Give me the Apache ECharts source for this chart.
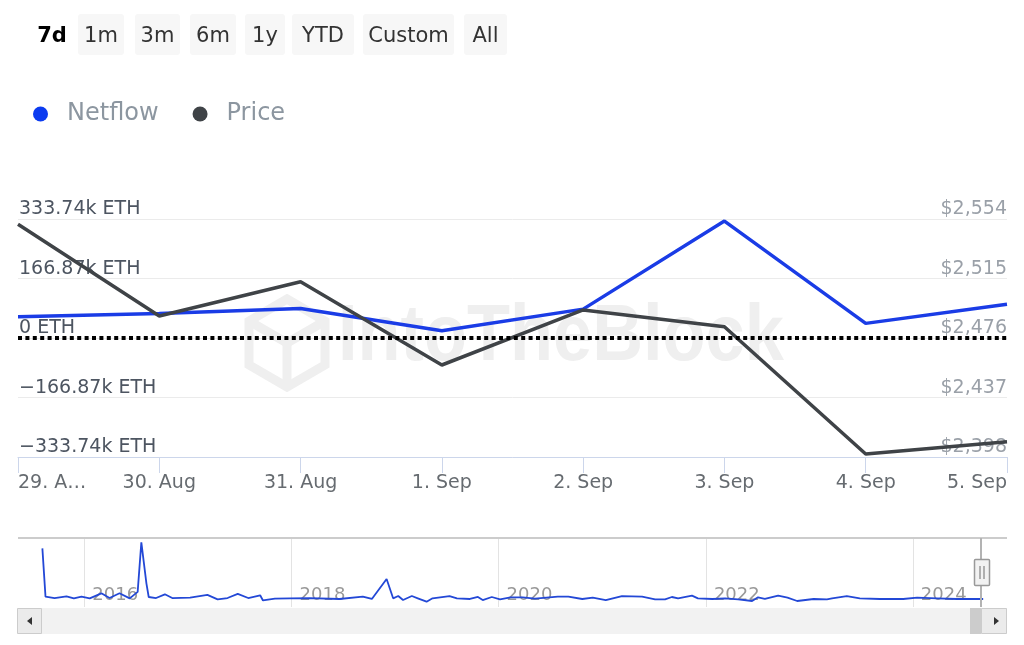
<!DOCTYPE html>
<html>
<head>
<meta charset="utf-8">
<script src="https://cdn.jsdelivr.net/npm/echarts@6/dist/echarts.min.js"></script>
<style>
html,body{margin:0;padding:0;background:#fff;}
#c{width:1024px;height:645px;}
</style>
</head>
<body>
<div id="c"></div>
<script>
// ---- data ----
var categories = ['29. Aug','30. Aug','31. Aug','1. Sep','2. Sep','3. Sep','4. Sep','5. Sep'];
var netflowK = [59.7, 69, 83, 20.5, 81, 328, 41, 94.5];          // k ETH
var price = [2550.5, 2490.4, 2512.9, 2458.3, 2494.4, 2483.4, 2400, 2408];
var leftTickLabels = ['\u2212333.74k ETH','\u2212166.87k ETH','0 ETH','166.87k ETH','333.74k ETH'];
var rightTickValues = [2398, 2437, 2476, 2515, 2554];
var rangeButtons = ['7d','1m','3m','6m','1y','YTD','Custom','All'];
var navYears = ['2016','2018','2020','2022','2024'];
var historyDates = ['2015-08-06','2015-08-17','2015-09-18','2015-10-30','2015-11-25','2015-12-22','2016-01-20','2016-03-01','2016-03-30','2016-05-04','2016-06-09','2016-07-07','2016-07-20','2016-08-07','2016-08-15','2016-09-10','2016-10-11','2016-11-06','2017-01-08','2017-03-10','2017-04-15','2017-05-20','2017-06-25','2017-08-01','2017-09-12','2017-09-22','2017-11-03','2017-12-26','2018-03-06','2018-06-19','2018-09-09','2018-10-11','2018-12-02','2018-12-25','2019-01-12','2019-01-29','2019-03-01','2019-03-22','2019-04-22','2019-05-13','2019-07-12','2019-08-07','2019-09-22','2019-10-20','2019-11-06','2019-12-08','2020-01-06','2020-02-12','2020-03-26','2020-05-08','2020-07-28','2020-09-03','2020-10-22','2020-11-28','2021-01-13','2021-03-11','2021-05-21','2021-07-06','2021-08-10','2021-09-03','2021-09-25','2021-11-13','2021-12-04','2022-01-24','2022-03-10','2022-04-25','2022-06-13','2022-07-04','2022-07-28','2022-09-13','2022-10-16','2022-11-19','2023-01-16','2023-03-04','2023-03-22','2023-05-13','2023-06-28','2023-09-07','2023-11-28','2024-01-16','2024-03-26','2024-06-04','2024-08-22','2024-09-05'];
var historyValues = [85,15,13,15.5,12.5,15,12.5,19.8,13,20,12.5,22,93.7,34,14.5,13,18.4,13,13.5,17.5,11,13,19,13,17,9.5,12,12.5,13,11.6,15,11.6,40.6,12.6,15.9,10.1,15.9,12.6,7.7,12.6,15.9,12.6,11.6,14.5,10.1,14.5,11.1,14,14,12,15,15,11.6,13.5,10.1,15.9,15,11.1,11.1,14.5,12.6,16.4,12.6,11.6,12.6,11.1,8.7,14,11.6,16.4,13.5,8.7,11.6,11.1,12.6,15.9,12.6,11.6,11.6,13.5,12.6,11.6,11.6,11.6];

var FONT = 'DejaVu Sans';
function ts(d){ return Date.parse(d + 'T00:00:00Z'); }
var navData = historyDates.map(function(d,i){ return [ts(d), historyValues[i]]; });
var yearTs = navYears.map(function(y){ return ts(y + '-01-01'); });

// ---- graphics (buttons, watermark, scrollbar) ----
var btnRects = [null,[78,46],[135,45],[190,46],[245,40],[292,62],[363,91],[464,43]];
var graphics = [];
rangeButtons.forEach(function(t,i){
  var r = btnRects[i];
  if (r) {
    graphics.push({type:'rect', shape:{x:r[0], y:14, width:r[1], height:41, r:3}, style:{fill:'#f7f7f7'}, z:1});
    graphics.push({type:'text', x:r[0]+r[1]/2, y:37, style:{text:t, font:'21px "'+FONT+'"', fill:'#333', align:'center', verticalAlign:'middle'}, z:2});
  } else {
    graphics.push({type:'text', x:52, y:37, style:{text:t, font:'bold 21px "'+FONT+'"', fill:'#000', align:'center', verticalAlign:'middle'}, z:2});
  }
});
// watermark
graphics.push({type:'polygon', shape:{points:[[287,299],[325,321],[325,365],[287,387],[249,365],[249,321]]}, style:{fill:'none', stroke:'#efefef', lineWidth:9}, z:0});
graphics.push({type:'polyline', shape:{points:[[249,321],[287,343],[325,321]]}, style:{fill:'none', stroke:'#efefef', lineWidth:9}, z:0});
graphics.push({type:'polyline', shape:{points:[[287,343],[287,387]]}, style:{fill:'none', stroke:'#efefef', lineWidth:9}, z:0});
graphics.push({type:'text', x:338, y:338, scaleX:0.88, style:{text:'IntoTheBlock', font:'bold 80px "Liberation Sans"', fill:'#efefef', verticalAlign:'middle'}, z:0});
// navigator outline
graphics.push({type:'line', shape:{x1:18,y1:538,x2:1007,y2:538}, style:{stroke:'#cccccc', lineWidth:2}, z:5});
graphics.push({type:'line', shape:{x1:981,y1:538,x2:981,y2:607}, style:{stroke:'#b3b3b3', lineWidth:2}, z:5});
graphics.push({type:'rect', shape:{x:974.5,y:559.5,width:15,height:26, r:1}, style:{fill:'#f2f2f2', stroke:'#999', lineWidth:1.5}, z:6});
graphics.push({type:'line', shape:{x1:980,y1:566,x2:980,y2:579}, style:{stroke:'#999', lineWidth:1.5}, z:7});
graphics.push({type:'line', shape:{x1:984,y1:566,x2:984,y2:579}, style:{stroke:'#999', lineWidth:1.5}, z:7});
// scrollbar
graphics.push({type:'rect', shape:{x:18,y:608,width:989,height:26}, style:{fill:'#f2f2f2'}, z:5});
graphics.push({type:'rect', shape:{x:17.5,y:608.5,width:24,height:25}, style:{fill:'#ebebeb', stroke:'#cccccc', lineWidth:1}, z:6});
graphics.push({type:'polygon', shape:{points:[[27,621],[32,617],[32,625]]}, style:{fill:'#333'}, z:7});
graphics.push({type:'rect', shape:{x:970,y:608,width:11,height:26}, style:{fill:'#cccccc'}, z:6});
graphics.push({type:'rect', shape:{x:981.5,y:608.5,width:25,height:25}, style:{fill:'#ebebeb', stroke:'#cccccc', lineWidth:1}, z:6});
graphics.push({type:'polygon', shape:{points:[[999,621],[994,617],[994,625]]}, style:{fill:'#333'}, z:7});

var chart = echarts.init(document.getElementById('c'), null, {renderer:'canvas'});
chart.setOption({
  animation:false,
  backgroundColor:'#fff',
  textStyle:{fontFamily:FONT},
  graphic:graphics,
  legend:{
    left:28, top:97, icon:'circle', itemWidth:15, itemHeight:15, itemGap:34,
    textStyle:{fontSize:24, color:'#8c96a0', fontFamily:FONT, padding:[0,0,0,14]},
    data:['Netflow','Price']
  },
  grid:[
    {left:18, right:17, top:219, bottom:188, containLabel:false},
    {left:18, right:17, top:538, bottom:38, containLabel:false}
  ],
  xAxis:[
    {type:'category', gridIndex:0, data:categories, boundaryGap:false,
     axisLine:{onZero:false, lineStyle:{color:'#ccd6eb', width:1}},
     axisTick:{length:16, lineStyle:{color:'#ccd6eb', width:1}},
     axisLabel:{margin:17, fontSize:19, color:'#666b70', fontFamily:FONT, alignMinLabel:'left', alignMaxLabel:'right',
       formatter:function(v,i){ return i===0 ? v.slice(0,5)+'\u2026' : v; }},
     splitLine:{show:false}},
    {type:'value', gridIndex:1, min:ts('2015-05-12'), max:ts('2024-11-28'),
     axisLine:{show:false}, axisTick:{show:false}, splitLine:{show:false},
     axisLabel:{inside:true, margin:3, fontSize:18, color:'#999', fontFamily:FONT, align:'left', padding:[0,0,0,8],
       customValues:yearTs,
       formatter:function(v){ return String(new Date(v).getUTCFullYear()); }}}
  ],
  yAxis:[
    {type:'value', gridIndex:0, min:-333.74, max:333.74, interval:166.87,
     axisLine:{show:false}, axisTick:{show:false},
     splitLine:{lineStyle:{color:'#ebebeb', width:1}},
     axisLabel:{inside:true, margin:1, fontSize:19, color:'#4d5561', fontFamily:FONT, verticalAlign:'bottom',
       formatter:function(v,i){ return leftTickLabels[i]; }}},
    {type:'value', gridIndex:0, position:'right', min:2398, max:2554,
     axisLine:{show:false}, axisTick:{show:false}, splitLine:{show:false},
     axisLabel:{inside:true, margin:0, fontSize:19, color:'#9aa0a8', fontFamily:FONT, verticalAlign:'bottom',
       customValues:rightTickValues,
       formatter:function(v){ return '$' + Math.round(v).toLocaleString('en-US'); }}},
    {type:'value', gridIndex:1, min:0, max:100, show:false}
  ],
  series:[
    {name:'Netflow', type:'line', xAxisIndex:0, yAxisIndex:0, data:netflowK, symbol:'none', z:3,
     itemStyle:{color:'#0b3bf0'}, lineStyle:{color:'#1a3ce6', width:3.5}},
    {name:'Price', type:'line', xAxisIndex:0, yAxisIndex:1, data:price, symbol:'none', z:4,
     itemStyle:{color:'#3f4347'}, lineStyle:{color:'#3f4347', width:3.5}},
    {name:'zero', type:'line', xAxisIndex:0, yAxisIndex:0, data:categories.map(function(){return '-';}), symbol:'none', z:6,
     markLine:{silent:true, symbol:'none', label:{show:false},
       lineStyle:{color:'#000', width:4, type:[4,3.4], cap:'butt'}, data:[{yAxis:0}]}},
    {name:'History', type:'line', xAxisIndex:1, yAxisIndex:2, data:navData, symbol:'none', z:3,
     lineStyle:{color:'#2348d6', width:1.8},
     markLine:{silent:true, symbol:'none', label:{show:false}, z:1,
       lineStyle:{color:'#e3e3e3', width:1, type:'solid'},
       data:yearTs.map(function(t){ return {xAxis:t}; })}}
  ]
});
</script>
</body>
</html>
